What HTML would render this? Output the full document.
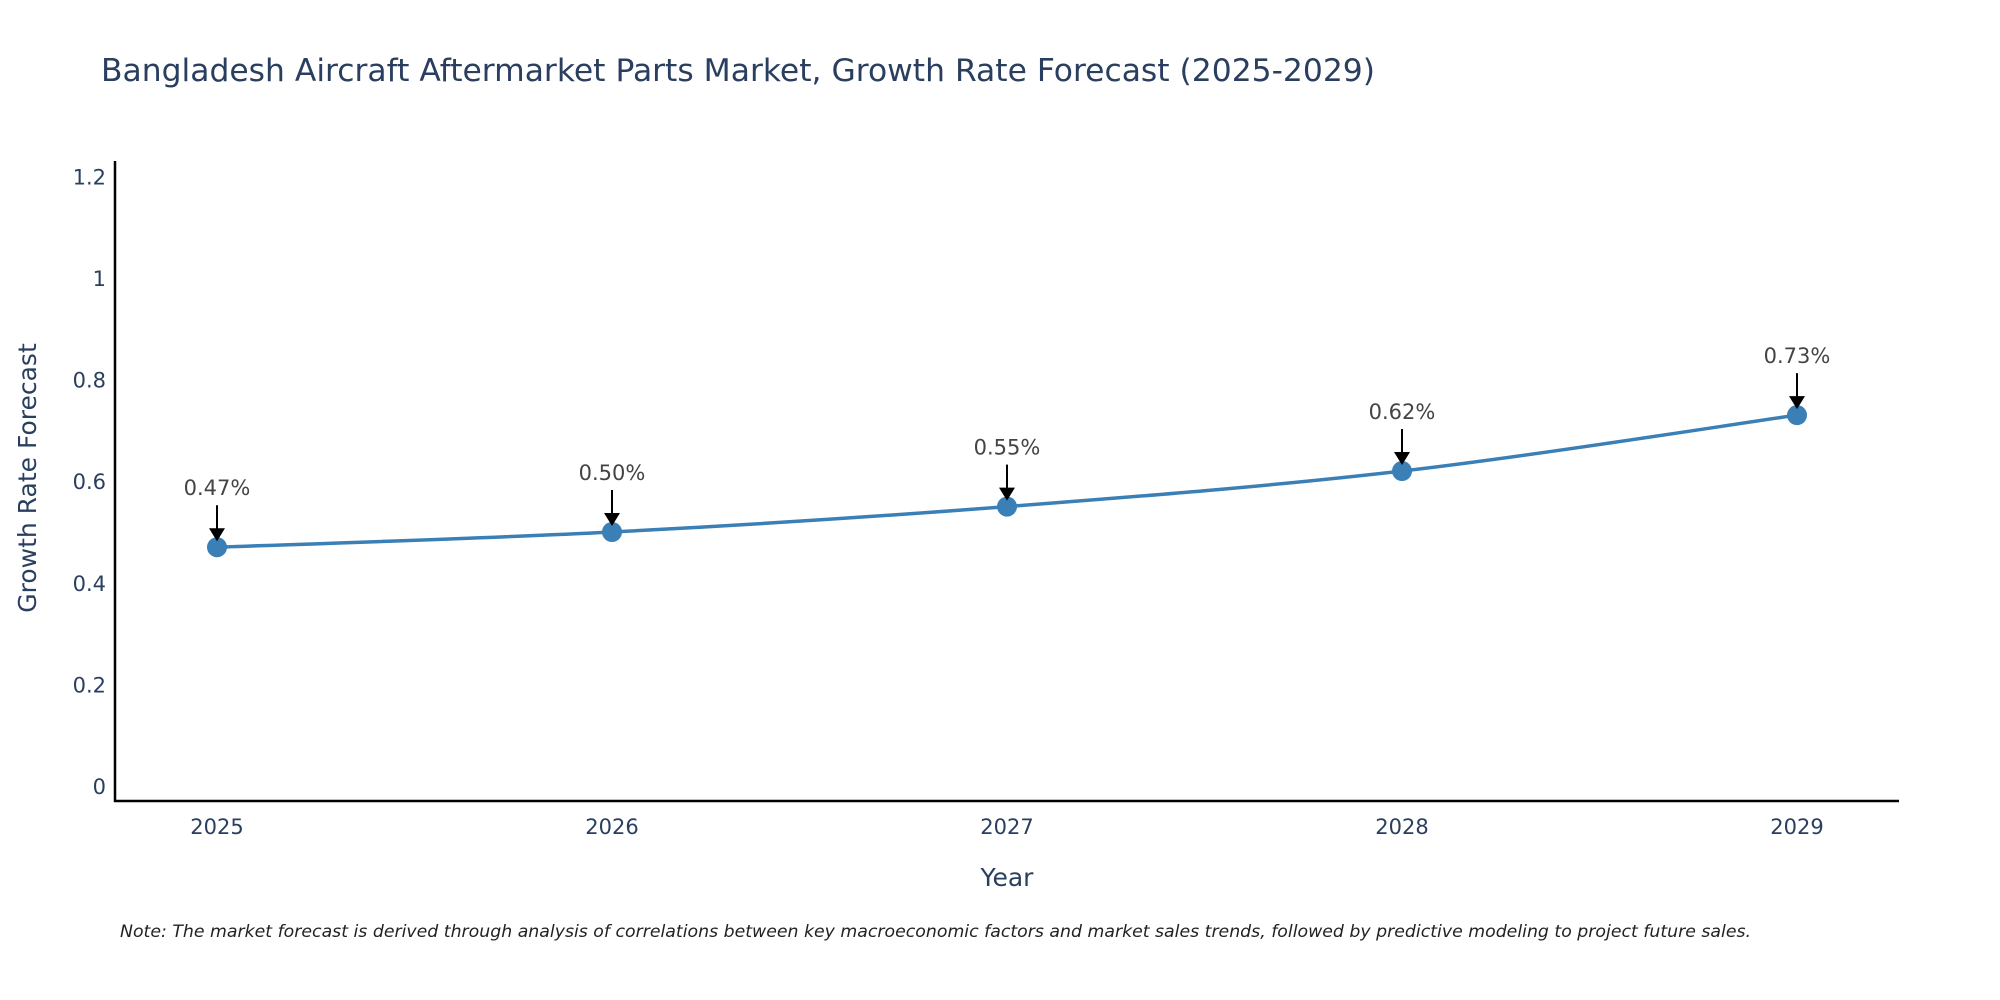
<!DOCTYPE html>
<html><head><meta charset="utf-8"><style>
html,body{margin:0;padding:0;background:#fff;}
svg{display:block;font-family:"DejaVu Sans","Liberation Sans",sans-serif;}
</style></head><body>
<svg id="chart" width="2000" height="1000" viewBox="0 0 2000 1000">
<text x="101" y="81" font-size="31" fill="#2a3f5f" textLength="1274" lengthAdjust="spacingAndGlyphs">Bangladesh Aircraft Aftermarket Parts Market, Growth Rate Forecast (2025-2029)</text>
<g id="yticks"></g><g id="xticks"></g>
<line x1="115" y1="161" x2="115" y2="802" stroke="#000" stroke-width="2.5"/>
<line x1="114" y1="801" x2="1899" y2="801" stroke="#000" stroke-width="2.5"/>
<path id="line" fill="none" stroke="#3a7fb5" stroke-width="3.5"/>
<g id="marks"></g>
<text x="1007" y="886" font-size="25" fill="#2a3f5f" text-anchor="middle">Year</text>
<text transform="translate(36,478) rotate(-90)" font-size="25" fill="#2a3f5f" text-anchor="middle">Growth Rate Forecast</text>
<text x="120" y="937" font-size="17" font-style="italic" fill="#222" textLength="1631" lengthAdjust="spacingAndGlyphs">Note: The market forecast is derived through analysis of correlations between key macroeconomic factors and market sales trends, followed by predictive modeling to project future sales.</text>
</svg>
<script>
const years = ["2025","2026","2027","2028","2029"];
const values = [0.47, 0.50, 0.55, 0.62, 0.73];
const labels = ["0.47%","0.50%","0.55%","0.62%","0.73%"];
const yTicks = [0,0.2,0.4,0.6,0.8,1,1.2];
const yTickLabels = ["0","0.2","0.4","0.6","0.8","1","1.2"];
const NS="http://www.w3.org/2000/svg";
const xS=i=>217+i*395;
const yS=v=>786-v*508;
function mk(t,a,p){const e=document.createElementNS(NS,t);for(const k in a)e.setAttribute(k,a[k]);p.appendChild(e);return e;}
const yt=document.getElementById('yticks');
yTicks.forEach((v,i)=>{const t=mk('text',{x:106,y:yS(v)+8,'font-size':21,fill:'#2a3f5f','text-anchor':'end'},yt);t.textContent=yTickLabels[i];

});
const xt=document.getElementById('xticks');
years.forEach((y,i)=>{const t=mk('text',{x:xS(i),y:834,'font-size':21,fill:'#2a3f5f','text-anchor':'middle'},xt);t.textContent=y;

});
const pts=values.map((v,i)=>[xS(i),yS(v)]);
let d=`M${pts[0][0]},${pts[0][1]}`;
for(let i=0;i<pts.length-1;i++){const p0=pts[Math.max(0,i-1)],p1=pts[i],p2=pts[i+1],p3=pts[Math.min(pts.length-1,i+2)];const s=6;
d+=` C${p1[0]+(p2[0]-p0[0])/s},${p1[1]+(p2[1]-p0[1])/s} ${p2[0]-(p3[0]-p1[0])/s},${p2[1]-(p3[1]-p1[1])/s} ${p2[0]},${p2[1]}`;}
document.getElementById('line').setAttribute('d',d);
const g=document.getElementById('marks');
pts.forEach((p,i)=>{
const c=mk('circle',{cx:p[0],cy:p[1],r:10,fill:'#3a7fb5'},g);


const l=mk('line',{x1:p[0],y1:p[1]-42,x2:p[0],y2:p[1]-16,stroke:'#000','stroke-width':2},g);


const a=mk('polygon',{points:`${p[0]-8},${p[1]-19} ${p[0]+8},${p[1]-19} ${p[0]},${p[1]-6}`,fill:'#000'},g);


const t=mk('text',{x:p[0],y:p[1]-52,'font-size':21,fill:'#444','text-anchor':'middle'},g);t.textContent=labels[i];


});
</script>
</body></html>
